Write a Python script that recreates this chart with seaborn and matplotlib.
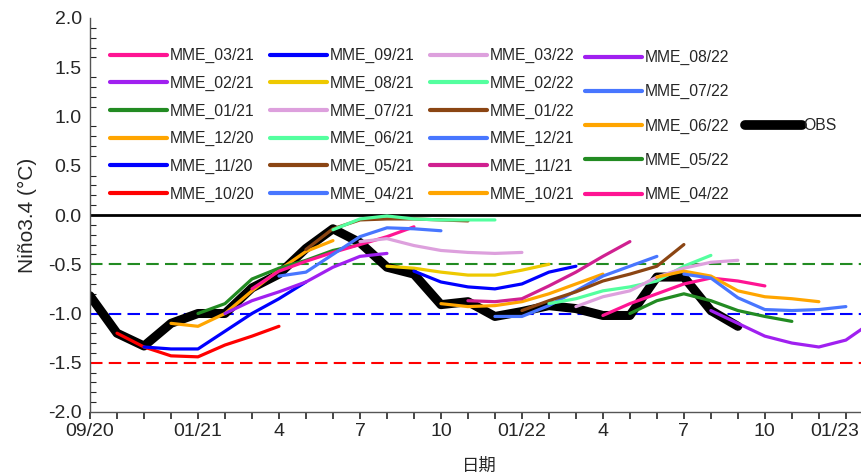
import matplotlib
matplotlib.use("Agg")
import matplotlib.pyplot as plt
from matplotlib.lines import Line2D
from matplotlib.ticker import MultipleLocator, FixedLocator
from matplotlib.transforms import ScaledTranslation
import seaborn as sns
import pandas as pd

# month index: 0 = 09/2020
obs_start = 0
obs = [-0.82, -1.20, -1.33, -1.10, -1.00, -1.00, -0.74, -0.60, -0.34, -0.14,
       -0.28, -0.53, -0.60, -0.91, -0.88, -1.03, -0.98, -0.92, -0.95, -1.02,
       -1.02, -0.63, -0.63, -0.97, -1.13]

# forecast runs: name -> (start month index, values)
mme_names = ["MME_10/20", "MME_11/20", "MME_12/20", "MME_01/21", "MME_02/21", "MME_03/21",
             "MME_04/21", "MME_05/21", "MME_06/21", "MME_07/21", "MME_08/21", "MME_09/21",
             "MME_10/21", "MME_11/21", "MME_12/21", "MME_01/22", "MME_02/22", "MME_03/22",
             "MME_04/22", "MME_05/22", "MME_06/22", "MME_07/22", "MME_08/22"]
mme_start = list(range(1, 24))
mme_values = [
    [-1.20, -1.34, -1.43, -1.44, -1.32, -1.23, -1.13],
    [-1.34, -1.36, -1.36, -1.18, -1.00, -0.85, -0.68],
    [-1.10, -1.13, -1.00, -0.77, -0.56, -0.37, -0.26],
    [-1.00, -0.90, -0.65, -0.54, -0.46, -0.36, -0.30],
    [-1.00, -0.87, -0.78, -0.68, -0.53, -0.42, -0.39],
    [-0.75, -0.57, -0.47, -0.38, -0.30, -0.22, -0.12],
    [-0.62, -0.58, -0.40, -0.22, -0.13, -0.14, -0.16],
    [-0.35, -0.14, -0.05, -0.04, -0.04, -0.05, -0.06],
    [-0.15, -0.04, -0.01, -0.04, -0.05, -0.05, -0.05],
    [-0.27, -0.24, -0.31, -0.36, -0.38, -0.39, -0.38],
    [-0.52, -0.54, -0.58, -0.61, -0.61, -0.56, -0.50],
    [-0.57, -0.68, -0.73, -0.75, -0.70, -0.58, -0.52],
    [-0.90, -0.93, -0.92, -0.88, -0.80, -0.70, -0.60],
    [-0.87, -0.88, -0.85, -0.72, -0.58, -0.42, -0.27],
    [-1.03, -1.03, -0.92, -0.77, -0.62, -0.52, -0.42],
    [-0.97, -0.87, -0.78, -0.67, -0.60, -0.52, -0.30],
    [-0.90, -0.85, -0.77, -0.73, -0.67, -0.52, -0.41],
    [-0.93, -0.83, -0.77, -0.63, -0.54, -0.48, -0.46],
    [-1.02, -0.90, -0.80, -0.70, -0.64, -0.67, -0.72],
    [-1.00, -0.87, -0.80, -0.87, -0.97, -1.03, -1.08],
    [-0.63, -0.57, -0.62, -0.77, -0.83, -0.85, -0.88],
    [-0.60, -0.64, -0.84, -0.96, -0.97, -0.96, -0.93],
    [-0.97, -1.10, -1.23, -1.30, -1.34, -1.27, -1.08],
]
mme_colors = ["#ff0000", "#0000ff", "#ffa500", "#228b22", "#a020f0", "#ff1493",
              "#4876ff", "#8b4513", "#54ff9f", "#dda0dd", "#eec900", "#0000ff",
              "#ffa500", "#d02090", "#4876ff", "#8b4513", "#54ff9f", "#dda0dd",
              "#ff1493", "#228b22", "#ffa500", "#4876ff", "#a020f0"]

ref_levels = [0.0, -0.5, -1.0, -1.5]
ref_colors = ["black", "#228b22", "#0000ff", "#ff0000"]
ref_styles = ["-", "--", "--", "--"]

tick_pos = [0, 4, 7, 10, 13, 16, 19, 22, 25, 28]
tick_labels = ["09/20", "01/21", "4", "7", "10", "01/22", "4", "7", "10", "01/23"]

# ---- build long-form data ----
rows = []
for name, s, vals in zip(mme_names, mme_start, mme_values):
    for i, v in enumerate(vals):
        rows.append({"series": name, "month": s + i, "value": v})
df = pd.DataFrame(rows)
df_obs = pd.DataFrame({"month": list(range(obs_start, obs_start + len(obs))), "value": obs})

sns.set_style("white")
plt.rcParams["font.family"] = ["Liberation Sans", "Noto Sans CJK SC", "DejaVu Sans"]

fig = plt.figure(figsize=(8.61, 4.75), dpi=100)
ax = fig.add_axes([90 / 861, 1 - 412 / 475, 1 - 90 / 861 + 0.01, (412 - 18) / 475])

for lvl, c, ls in zip(ref_levels, ref_colors, ref_styles):
    ax.axhline(lvl, color=c, ls=ls, lw=2.0 if ls == "-" else 1.5,
               dashes=(6, 3) if ls == "--" else (None, None), zorder=1)

palette = dict(zip(mme_names, mme_colors))
sns.lineplot(data=df, x="month", y="value", hue="series", palette=palette,
             hue_order=mme_names, lw=2.3, legend=False, sort=False, ax=ax, zorder=3)
sns.lineplot(data=df_obs, x="month", y="value", color="black", lw=6.5,
             legend=False, ax=ax, zorder=2)

ax.set_xlim(0, 28.88)
ax.set_ylim(-2.0, 2.0)
ax.yaxis.set_major_locator(MultipleLocator(0.5))
ax.yaxis.set_minor_locator(MultipleLocator(0.1))
ax.set_yticklabels([f"{v:.1f}" for v in ax.get_yticks()])
ax.xaxis.set_major_locator(FixedLocator(tick_pos))
ax.set_xticklabels(tick_labels)
ax.xaxis.set_minor_locator(MultipleLocator(1))
ax.tick_params(axis="y", which="major", direction="inout", length=8, width=1, labelsize=14, pad=2)
ax.tick_params(axis="y", which="minor", direction="in", length=4, width=0.8, left=True)
ax.tick_params(axis="x", which="both", direction="out", length=5, width=1.2, labelsize=14, bottom=True, pad=3)
# keep the last month label inside the figure
last = ax.get_xticklabels()[-1]
last.set_transform(last.get_transform() + ScaledTranslation(-8 / 72, 0, fig.dpi_scale_trans))
for side in ["top", "right"]:
    ax.spines[side].set_visible(False)
for side in ["left", "bottom"]:
    ax.spines[side].set_color("#555555")
    ax.spines[side].set_linewidth(1)
ax.set_xlabel("日期", fontsize=12.5, labelpad=13)
ax.set_ylabel("Niño3.4 (°C)", fontsize=15, labelpad=8)

# ---- legends ----
lfs = 11.3
col_order = ["MME_03/21", "MME_02/21", "MME_01/21", "MME_12/20", "MME_11/20", "MME_10/20",
             "MME_09/21", "MME_08/21", "MME_07/21", "MME_06/21", "MME_05/21", "MME_04/21",
             "MME_03/22", "MME_02/22", "MME_01/22", "MME_12/21", "MME_11/21", "MME_10/21"]
h1 = [Line2D([], [], color=palette[n], lw=3) for n in col_order]
leg1 = fig.legend(h1, col_order, loc="upper left", bbox_to_anchor=(110 / 861, 1 - 48 / 475),
                  ncol=3, frameon=False, fontsize=lfs, handlelength=3.6, handletextpad=0.2,
                  labelspacing=0.8, columnspacing=1.0, borderpad=0, borderaxespad=0)
col4 = ["MME_08/22", "MME_07/22", "MME_06/22", "MME_05/22", "MME_04/22"]
h2 = [Line2D([], [], color=palette[n], lw=3) for n in col4]
leg2 = fig.legend(h2, col4, loc="upper left", bbox_to_anchor=(585 / 861, 1 - 50 / 475),
                  ncol=1, frameon=False, fontsize=lfs, handlelength=3.6, handletextpad=0.2,
                  labelspacing=1.22, borderpad=0, borderaxespad=0)
h3 = [Line2D([], [], color="black", lw=7, solid_capstyle="round")]
leg3 = fig.legend(h3, ["OBS"], loc="upper left", bbox_to_anchor=(745 / 861, 1 - 118 / 475),
                  frameon=False, fontsize=lfs, handlelength=3.6, handletextpad=0.1,
                  borderpad=0, borderaxespad=0)

fig.savefig("out.png", dpi=100)
